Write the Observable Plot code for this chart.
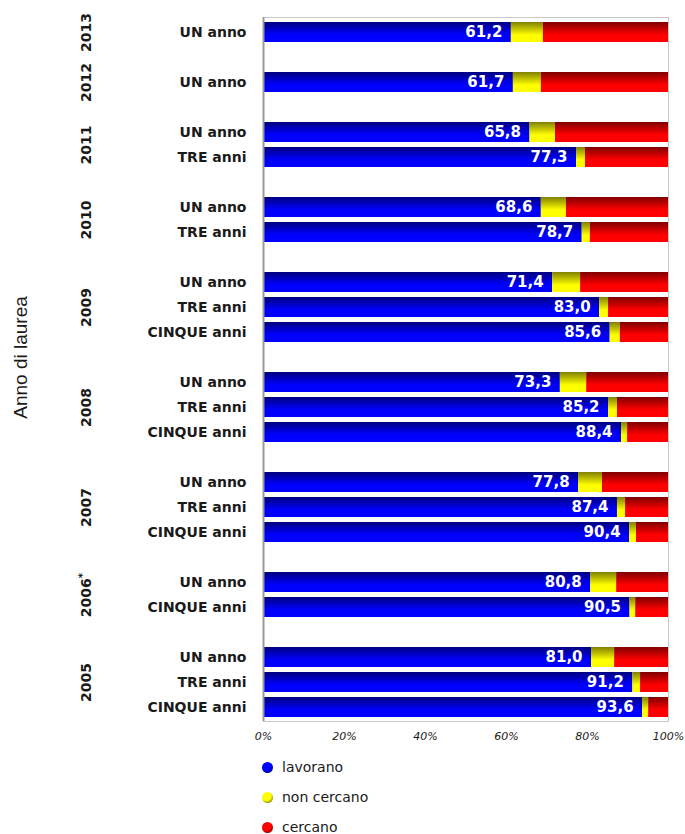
<!DOCTYPE html>
<html><head><meta charset="utf-8">
<script src="https://cdn.jsdelivr.net/npm/d3@7"></script>
<script src="https://cdn.jsdelivr.net/npm/@observablehq/plot@0.6"></script>
<style>
body{margin:0;background:#fff;}
#legend{margin-left:261px;font-family:"DejaVu Sans",sans-serif;font-size:14px;color:#1a1a1a;}
.li{height:30px;display:flex;align-items:center;}
.li svg{margin-right:8px;}
</style></head><body><div id="chart"></div><div id="legend"></div>
<script>
const anni = ["2013","2012","2011","2011","2010","2010","2009","2009","2009","2008","2008","2008","2007","2007","2007","2006*","2006*","2005","2005","2005"];
const durate = ["UN anno","UN anno","UN anno","TRE anni","UN anno","TRE anni","UN anno","TRE anni","CINQUE anni","UN anno","TRE anni","CINQUE anni","UN anno","TRE anni","CINQUE anni","UN anno","CINQUE anni","UN anno","TRE anni","CINQUE anni"];
const lavorano   = [61.2, 61.7, 65.8, 77.3, 68.6, 78.7, 71.4, 83.0, 85.6, 73.3, 85.2, 88.4, 77.8, 87.4, 90.4, 80.8, 90.5, 81.0, 91.2, 93.6];
const nonCercano = [7.9, 6.9, 6.3, 2.2, 6.2, 2.0, 6.9, 2.2, 2.5, 6.5, 2.2, 1.5, 5.9, 2.0, 1.7, 6.4, 1.4, 5.7, 1.9, 1.5];
const cercano    = [30.9, 31.4, 27.9, 20.5, 25.2, 19.3, 21.7, 14.8, 11.9, 20.2, 12.6, 10.1, 16.3, 10.6, 7.9, 12.8, 8.1, 13.3, 6.9, 4.9];
const categorie = ["lavorano","non cercano","cercano"];
const tickX = [0, 20, 40, 60, 80, 100];
const asseY = "Anno di laurea";

const gradienti = [
  {id:"gBlu", top:"#000080", bottom:"#0000ff"},
  {id:"gGia", top:"#808000", bottom:"#ffff00"},
  {id:"gRos", top:"#800000", bottom:"#ff0000"}
];

const rows = anni.map((a, i) => ({anno: a, durata: durate[i], key: a + "|" + durate[i],
  "lavorano": lavorano[i], "non cercano": nonCercano[i], "cercano": cercano[i]}));
const domain = []; let g = 0;
rows.forEach((r, i) => { if (i > 0 && rows[i-1].anno !== r.anno) domain.push("gap" + (g++)); domain.push(r.key); });
const long = rows.flatMap(r => categorie.map(c => ({key: r.key, categoria: c, valore: r[c]})));
const groups = d3.groups(rows, r => r.anno).map(([anno, rs]) => ({anno, n: rs.length, key: rs[Math.floor((rs.length - 1) / 2)].key}));

const W = 685, H = 752, mT = 17, mB = 31, mL = 263, mR = 17;
const step = (H - mT - mB) / domain.length;
const fmt = v => v.toFixed(1).replace(".", ",");

const plot = Plot.plot({
  width: W, height: H,
  marginTop: mT, marginBottom: mB, marginLeft: mL, marginRight: mR,
  style: {fontFamily: "DejaVu Sans", color: "#1a1a1a", background: "#fff"},
  x: {domain: [0, 100]},
  y: {domain, paddingInner: 0.2, paddingOuter: 0.1},
  color: {domain: categorie, range: gradienti.map(d => `url(#${d.id})`)},
  marks: [
    Plot.frame({stroke: "#c8c8c8"}),
    Plot.barX(long, Plot.stackX({x: "valore", y: "key", fill: "categoria"})),
    Plot.ruleX([0], {stroke: "#9a9a9a", strokeWidth: 2}),
    Plot.text(rows, {x: "lavorano", y: "key", text: d => fmt(d.lavorano), textAnchor: "end", dx: -9,
      fill: "white", fontWeight: "bold", fontSize: 15}),
    Plot.axisX({ticks: tickX, tickSize: 0, tickPadding: 11, tickFormat: d => d + "%", fontStyle: "italic", fontSize: 11, label: null}),
    Plot.axisY({ticks: rows.map(r => r.key), tickSize: 0, tickPadding: 17, tickFormat: k => k.split("|")[1],
      fontSize: 14, fontWeight: "bold", label: null}),
    Plot.text(groups.filter(d => d.n % 2 === 1), {y: "key", text: "anno", frameAnchor: "left", textAnchor: "middle", dx: -177, rotate: -90,
      fontSize: 14, fontWeight: "bold"}),
    Plot.text(groups.filter(d => d.n % 2 === 0), {y: "key", text: "anno", frameAnchor: "left", textAnchor: "middle", dx: -177, dy: step / 2, rotate: -90,
      fontSize: 14, fontWeight: "bold"}),
    Plot.text([asseY], {text: d => d, frameAnchor: "left", textAnchor: "middle", dx: -243, dy: -12, rotate: -90, fontSize: 19,
      fontFamily: "Liberation Sans"})
  ]
});

const ns = "http://www.w3.org/2000/svg";
const defs = document.createElementNS(ns, "defs");
gradienti.forEach(gd => {
  const lg = document.createElementNS(ns, "linearGradient");
  lg.setAttribute("id", gd.id); lg.setAttribute("x1", "0"); lg.setAttribute("y1", "0"); lg.setAttribute("x2", "0"); lg.setAttribute("y2", "1");
  [[0, gd.top], [0.65, gd.bottom], [1, gd.bottom]].forEach(([o, c]) => {
    const s = document.createElementNS(ns, "stop"); s.setAttribute("offset", o); s.setAttribute("stop-color", c); lg.appendChild(s);
  });
  defs.appendChild(lg);
});
plot.insertBefore(defs, plot.firstChild);
plot.querySelectorAll("text").forEach(t => {
  if (t.textContent === "2006*") {
    t.textContent = "2006";
    const ts = document.createElementNS(ns, "tspan");
    ts.setAttribute("dy", "-0.45em"); ts.setAttribute("font-size", "10"); ts.textContent = "*";
    t.appendChild(ts);
  }
});
document.getElementById("chart").appendChild(plot);

const leg = document.getElementById("legend");
categorie.forEach((c, i) => {
  const gd = gradienti[i];
  const div = document.createElement("div"); div.className = "li";
  div.innerHTML = `<svg width="13" height="13"><defs><radialGradient id="r${i}" cx="0.4" cy="0.35" r="0.7">
    <stop offset="0" stop-color="${gd.bottom}"/><stop offset="0.6" stop-color="${gd.bottom}"/><stop offset="1" stop-color="${gd.top}"/></radialGradient></defs>
    <circle cx="6.5" cy="6.5" r="5.5" fill="url(#r${i})"/></svg><span>${c}</span>`;
  leg.appendChild(div);
});
</script></body></html>
